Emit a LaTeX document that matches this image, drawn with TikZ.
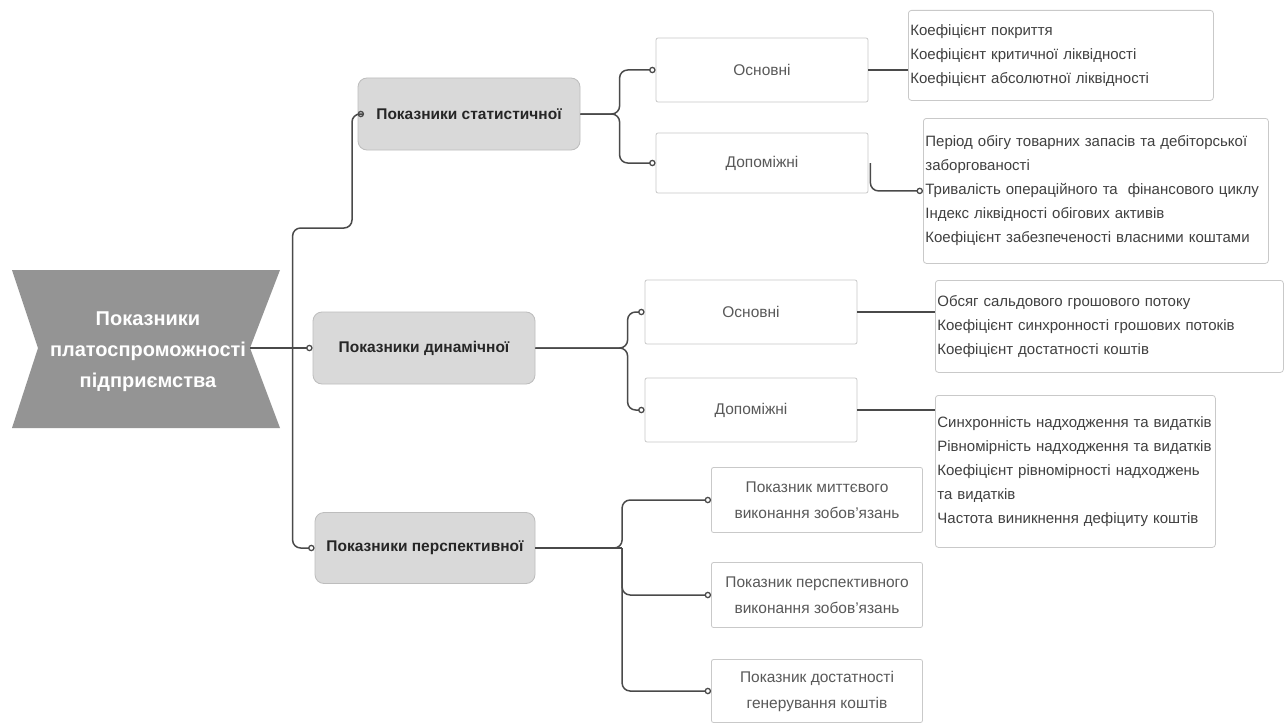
\documentclass[tikz,border=0pt]{standalone}
\usepackage{fontspec}
\setmainfont{Liberation Sans}
\usetikzlibrary{arrows.meta}
\definecolor{linec}{HTML}{4A4A4A}
\definecolor{rootfill}{HTML}{949494}
\definecolor{lvlfill}{HTML}{D9D9D9}
\definecolor{lvldraw}{HTML}{BDBDBD}
\definecolor{boxdraw}{HTML}{C9C9C9}
\begin{document}
\begin{tikzpicture}[x=1pt,y=-1pt,
  conn/.style={draw=linec, line width=1.5pt, rounded corners=8pt},
  dotend/.style={-{Circle[open,length=6.5pt,width=6.5pt,line width=1.3pt]}},
  lvlone/.style={rounded corners=9pt, fill=lvlfill, draw=lvldraw, line width=0.8pt,
     minimum width=222pt, minimum height=72pt, font=\bfseries\fontsize{15.5}{18}\selectfont, text=black!85},
  lvltwo/.style={rounded corners=2pt, fill=white, draw=boxdraw, line width=0.8pt,
     minimum width=212pt, minimum height=64pt, align=center,
     font=\fontsize{15.5}{26}\selectfont, text=black!65},
  leaf/.style={rounded corners=3pt, fill=white, draw=boxdraw, line width=0.8pt,
     anchor=north west, align=left, inner xsep=2pt, inner ysep=0pt,
     font=\fontsize{15}{24}\selectfont, text=black!75}
]
\useasboundingbox (0,0) rectangle (1288,725);
\fill[white] (0,0) rectangle (1288,725);

% root
\fill[rootfill] (12,270) -- (280,270) -- (250,348) -- (280,428) -- (12,428) -- (38,348) -- cycle;
\node[align=center, text=white, font=\bfseries\fontsize{20}{31}\selectfont] (root) at (148,352)
  {Показники\\платоспроможності\\підприємства};
\coordinate (rootR) at (250,348);

% level 1
\node[lvlone] (stat) at (469,114) {Показники статистичної};
\node[lvlone] (dyn) at (424,348) {Показники динамічної};
\node[lvlone, minimum width=220pt, minimum height=71pt] (persp) at (425,548) {Показники перспективної};

% level 2
\node[lvltwo] (s1) at (762,70) {Основні};
\node[lvltwo, minimum height=60pt] (s2) at (762,163) {Допоміжні};
\node[lvltwo] (d1) at (751,312) {Основні};
\node[lvltwo] (d2) at (751,410) {Допоміжні};
\node[lvltwo, minimum width=211pt, minimum height=65pt] (p1) at (817,500) {Показник миттєвого\\виконання зобов'язань};
\node[lvltwo, minimum width=211pt, minimum height=65pt] (p2) at (817,595) {Показник перспективного\\виконання зобов'язань};
\node[lvltwo, minimum width=211pt, minimum height=63pt] (p3) at (817,691) {Показник достатності\\генерування коштів};

% level 3
\node[leaf, text width=301pt, minimum height=90pt] (A) at (908,10)
  {\mbox{Коефіцієнт покриття}\\\mbox{Коефіцієнт критичної ліквідності}\\\mbox{Коефіцієнт абсолютної ліквідності}};
\node[leaf, text width=341pt, minimum height=145pt] (B) at (923,118)
  {\mbox{Період обігу товарних запасів та дебіторської}\\\mbox{заборгованості}\\\mbox{Тривалість операційного та\ \ фінансового циклу}\\\mbox{Індекс ліквідності обігових активів}\\\mbox{Коефіцієнт забезпеченості власними коштами}};
\node[leaf, text width=344pt, minimum height=92pt] (C) at (935,280)
  {\mbox{Обсяг сальдового грошового потоку}\\\mbox{Коефіцієнт синхронності грошових потоків}\\\mbox{Коефіцієнт достатності коштів}};
\node[leaf, text width=276pt, minimum height=152pt] (D) at (935,395)
  {\mbox{Синхронність надходження та видатків}\\\mbox{Рівномірність надходження та видатків}\\\mbox{Коефіцієнт рівномірності надходжень}\\\mbox{та видатків}\\\mbox{Частота виникнення дефіциту коштів}};

% root connectors
\draw[conn, line width=2pt] (rootR) -- ([xshift=-20pt]dyn.west);
\draw[conn, dotend] ([xshift=-20pt]dyn.west) -- (dyn.west);
\draw[conn, dotend] ([xshift=-20pt]dyn.west) |- (352,228) |- (stat.west);
\draw[conn, dotend] ([xshift=-20pt]dyn.west) |- (persp.west);

% level 1 -> level 2
\draw[conn, dotend] (stat.east) -| ([xshift=-36pt]s1.west) -- (s1.west);
\draw[conn, dotend] (stat.east) -| ([xshift=-36pt]s2.west) -- (s2.west);
\draw[conn, dotend] (dyn.east) -| ([xshift=-17pt]d1.west) -- (d1.west);
\draw[conn, dotend] (dyn.east) -| ([xshift=-17pt]d2.west) -- (d2.west);
\draw[conn, line width=2.5pt] (persp.east) -- ([xshift=-89pt]p1.west |- persp.east);
\draw[conn, dotend] (persp.east) -| ([xshift=-89pt]p1.west) -- (p1.west);
\draw[conn, dotend] ([xshift=-89pt]p1.west |- persp.east) |- (p2.west);
\draw[conn, dotend] ([xshift=-89pt]p1.west |- persp.east) |- (p3.west);

% level 2 -> level 3
\draw[conn] (s1.east) -- (s1.east -| A.west);
\draw[conn, dotend] ([xshift=2pt]s2.east) |- (B.west);
\draw[conn] (d1.east) -- (d1.east -| C.west);
\draw[conn] (d2.east) -- (d2.east -| D.west);
\end{tikzpicture}
\end{document}
